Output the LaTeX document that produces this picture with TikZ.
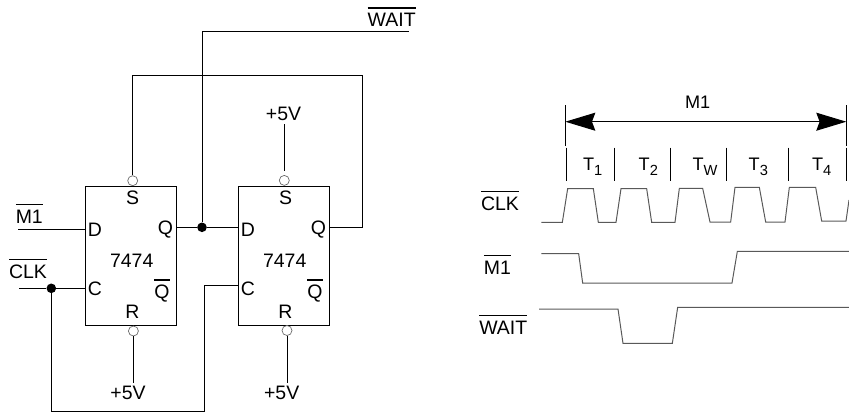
\documentclass[tikz,border=0pt]{standalone}
\usepackage{fontspec}
\setmainfont{Liberation Sans}
\usetikzlibrary{arrows.meta}
\newsavebox{\ovtext}
\newcommand{\ovbar}[1]{\leavevmode\sbox{\ovtext}{#1}\rlap{\smash{\rule[\dimexpr\ht\ovtext+3.5pt]{\wd\ovtext}{1pt}}}\usebox{\ovtext}}
\newcommand{\tlab}[1]{T\raisebox{-3.75pt}{\fontsize{11}{12}\selectfont #1}}
\tikzset{
	wire/.style={draw=black,line width=0.75pt},
	wave/.style={draw=black!65,line width=0.75pt},
	ffbox/.style={draw=black,line width=0.75pt,minimum width=67.9pt,minimum height=104.25pt,inner sep=0pt},
	bubble/.style={circle,draw=black!60,fill=white,line width=0.5pt,minimum size=7.5pt,inner sep=0pt},
	junction/.style={circle,fill=black,minimum size=7.2pt,inner sep=0pt},
	lab/.style={font=\fontsize{14.6}{16}\selectfont,inner sep=2.8pt},
	tlabel/.style={font=\fontsize{13.6}{15}\selectfont,inner sep=0pt}
}
\begin{document}
\begin{tikzpicture}[x=0.75pt,y=-0.75pt]
	\useasboundingbox (0,0) rectangle (849,412);
	\foreach \n/\dx in {a/0,b/153}{
	  \node[ffbox] (ff\n) at ({130.75+\dx},255.5) {};
	  \node[lab] (chip\n) at ({131.7+\dx},261) {7474};
	  \node[lab] (s\n) at ({132.5+\dx},198) {S};
	  \node[lab] (d\n) at ({95+\dx},229.5) {D};
	  \node[lab] (c\n) at ({95+\dx},289) {C};
	  \node[lab] (q\n) at ({165.5+\dx},229.5) {Q};
	  \node[lab] (nq\n) at ({162+\dx},294) {\ovbar{Q}};
	  \node[lab] (r\n) at ({132.5+\dx},311.5) {R};
	}
	\foreach \n/\x/\y in {bsa/132.7/180.7,bsb/284.3/180.4,bra/133.4/331,brb/287/330.5}
	  \node[bubble] (\n) at (\x,\y) {};
	\node[junction] (dotq) at (202,227.3) {};
	\node[junction] (dotc) at (51.3,288.3) {};
	\node[lab] (vtop) at (283.5,113.7) {+5V};
	\node[lab] (vbota) at (128,393.3) {+5V};
	\node[lab] (vbotb) at (281.7,393.3) {+5V};
	\node[lab] (lblm) at (29.3,216.7) {\ovbar{M1}};
	\node[lab] (lblc) at (28,272) {\ovbar{CLK}};
	\node[lab] (lblw) at (391.7,20) {\ovbar{WAIT}};
	\coordinate (m1in) at (18,229.3);
	\coordinate (clkin) at (19,288.3);
	\coordinate (clkturn) at (204.3,411);
	\coordinate (clkb) at (238.5,285.3);
	\coordinate (waitend) at (409,31.3);
	\coordinate (fbturn) at (362.3,75.3);
	\draw[wire] (m1in) -- (m1in -| ffa.west);
	\draw[wire] (clkin) -- (dotc) -- (dotc -| ffa.west);
	\draw[wire] (dotc) |- (clkturn) |- (clkb);
	\draw[wire] (dotq -| ffa.east) -- (dotq) -- (dotq -| ffb.west);
	\draw[wire] (dotq) |- (waitend);
	\draw[wire] (dotq -| ffb.east) -| (fbturn) -| (bsa.north);
	\draw[wire,shorten >=3pt] (bsb.north |- vtop.south) -- (bsb.north);
	\draw[wire] (bra.south) -- (bra.south |- vbota.north);
	\draw[wire] (brb.south) -- (brb.south |- vbotb.north);
	% timing side
	\node[lab] (lblclk) at (500,204) {\ovbar{CLK}};
	\node[lab] (lblm1) at (497.3,267.7) {\ovbar{M1}};
	\node[lab] (lblwait) at (503.3,327.3) {\ovbar{WAIT}};
	\node[tlabel] (lblcyc) at (697.7,102.7) {M1};
	\coordinate (cycl) at (565.3,121.7);
	\coordinate (cycr) at (846.3,121.7);
	\draw[wire] (565.3,105) -- (565.3,145.7);
	\draw[wire] (846.3,105) -- (846.3,145.7);
	\draw[wire,{Stealth[length=22.5pt,width=13.5pt,inset=2.5pt]}-{Stealth[length=22.5pt,width=13.5pt,inset=2.5pt]}] (cycl) -- (cycr);
	\foreach \x in {566.3,614.7,670.7,726.7,788.7,846.7}
	  \draw[wire] (\x,147.7) -- (\x,180.7);
	\foreach \n/\x/\t in {one/592.7/\tlab{1},two/648.3/\tlab{2},wt/705/\tlab{W},three/758.3/\tlab{3},four/821.7/\tlab{4}}
	  \node[tlabel] (t\n) at (\x,167) {\t};
	\draw[wave,xshift=352.5pt,yshift=-67.5pt,x=0.25pt,y=-0.25pt] (214,397) -- (277,397) -- (293,296) -- (370,296) -- (385,397) -- (438,397) -- (453,296) -- (530,296) -- (545,397) -- (615,397) -- (628,295) -- (698,295) -- (720,396) -- (782,396) -- (795,292) -- (868,292) -- (887,396) -- (945,396) -- (958,292) -- (1037,292) -- (1055,393) -- (1128,393) -- (1137,330);
	\draw[wave,xshift=352.5pt,yshift=-67.5pt,x=0.25pt,y=-0.25pt] (214,491) -- (326,491) -- (338,579) -- (786,579) -- (802,484) -- (1137,484);
	\draw[wave,xshift=352.5pt,yshift=-67.5pt,x=0.25pt,y=-0.25pt] (207,657) -- (444,657) -- (459,760) -- (607,760) -- (623,652) -- (1137,652);
\end{tikzpicture}
\end{document}
